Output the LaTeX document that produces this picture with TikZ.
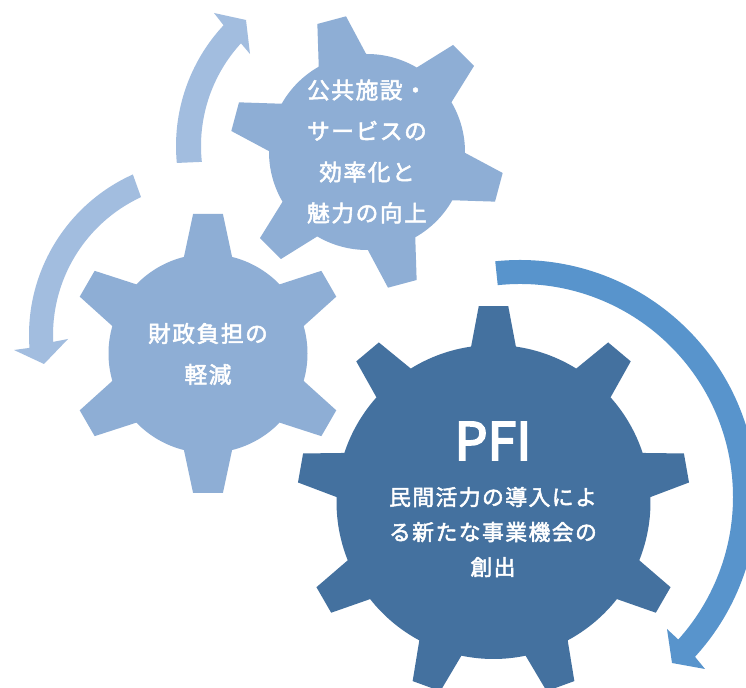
\documentclass[tikz,border=0pt]{standalone}
\usepackage{fontspec}
\usetikzlibrary{calc}
\setmainfont{Noto Sans CJK JP}
\newfontfamily\lblfont{Noto Sans CJK JP}[LetterSpace=7,FakeBold=2.4]
\newfontfamily\ttlfont{Noto Sans CJK JP}[FakeBold=3.5]
\definecolor{gearlight}{HTML}{8EAED5}
\definecolor{geardark}{HTML}{44719F}
\definecolor{arrowlight}{HTML}{A2BDDF}
\definecolor{arrowdark}{HTML}{5894CC}
% #1 colour, #2 cx, #3 cy, #4 R, #5 tip R, #6 teeth, #7 first tooth angle, #8 base half angle, #9 tip half angle
\newcommand{\gearshape}[9]{%
  \pgfmathsetmacro{\gstep}{360/#6}%
  \pgfmathtruncatemacro{\glast}{#6-1}%
  \fill[#1,shift={(#2,#3)}] ({#7+#8}:#4)
    \foreach \i [evaluate=\i as \a using #7-\i*\gstep] in {0,...,\glast} {
      -- ({\a+#8}:#4) -- ({\a+#9}:#5) -- ({\a-#9}:#5) -- ({\a-#8}:#4)
      arc[start angle=\a-#8, end angle=\a-\gstep+#8, radius=#4]
    } -- cycle;%
}
\tikzset{
  gearlabel/.style={text=white,align=center,inner sep=0pt,font=\lblfont\fontsize{17}{30.75}\selectfont},
  pfilabel/.style={text=white,align=center,inner sep=0pt,font=\lblfont\fontsize{16.3}{26.25}\selectfont},
  pfititle/.style={text=white,inner sep=0pt,font=\ttlfont\fontsize{39}{40}\selectfont},
}
\begin{document}
\begin{tikzpicture}[x=0.75pt,y=0.75pt]
\path[use as bounding box,clip] (0,0) rectangle (746,688);
\fill[white] (0,0) rectangle (746,688);
\coordinate (c1) at (353,542);
\coordinate (c2) at (205,353);
\coordinate (c3) at (520,191);
% arrows
\fill[arrowlight] ($(c1)+(186:152)$) arc[start angle=186,end angle=137.5,radius=152]
  -- (250,634) -- (246,668) -- (214,675) -- ($(c1)+(137:177)$)
  arc[start angle=137,end angle=185.5,radius=177] -- cycle;
\fill[arrowlight] ($(c2)+(114.9:152)$) arc[start angle=114.9,end angle=182.6,radius=152]
  -- (68,349) -- (44,324) -- (14,338) -- ($(c2)+(184.2:176)$)
  arc[start angle=184.2,end angle=114.2,radius=176] -- cycle;
\fill[arrowdark] ($(c3)+(96:213)$) arc[start angle=96,end angle=-42,radius=213]
  -- (667,59) -- (672,25) -- (705,19) -- ($(c3)+(-42.4:237)$)
  arc[start angle=-42.4,end angle=96,radius=237] -- cycle;
% gears
\gearshape{gearlight}{367}{536}{98}{137.3}{6}{105}{14.5}{6.2}
\gearshape{gearlight}{208}{334.5}{99.5}{140.3}{6}{90}{14}{6.1}
\gearshape{geardark}{493.5}{186}{157}{196.5}{9}{90}{8.2}{4.3}
% labels
\node[gearlabel] (a) at (367,536.5) {公共施設・\\サービスの\\効率化と\\魅力の向上};
\node[gearlabel] (b) at (208,334) {財政負担の\\軽減};
\node[pfititle] (t) at (493,247) {PFI};
\node[pfilabel] (c) at (493,156) {民間活力の導入によ\\る新たな事業機会の\\創出};
\end{tikzpicture}
\end{document}
